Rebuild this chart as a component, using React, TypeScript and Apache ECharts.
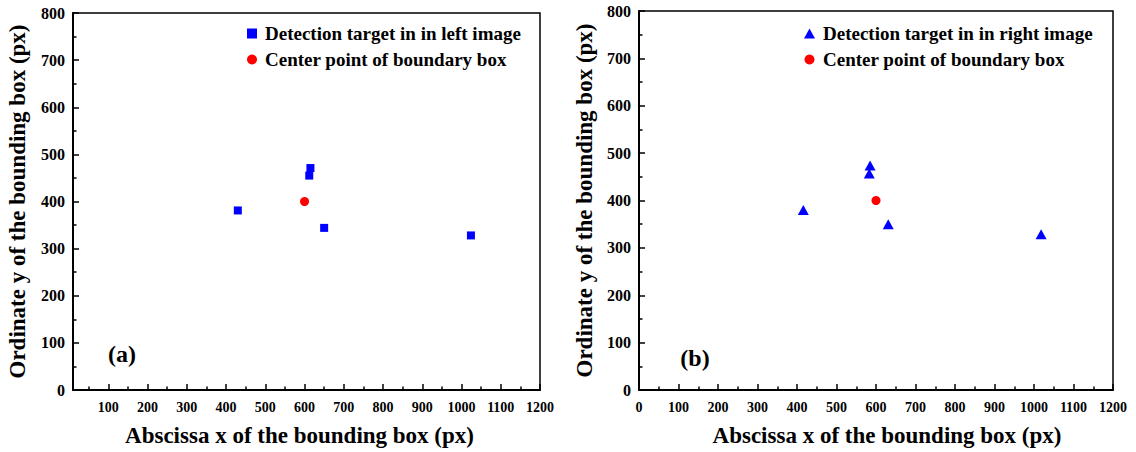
import React, { useEffect, useRef } from "react";
import * as echarts from "echarts";

// ---- data ----
const leftTargets: number[][] = [
  [430, 381],
  [615, 471],
  [612, 455],
  [650, 344],
  [1024, 328],
];
const rightTargets: number[][] = [
  [416, 380],
  [585, 474],
  [583, 457],
  [631, 350],
  [1018, 329],
];
const centerPoint: number[][] = [[600, 400]];

const xTicksLeft = [100, 200, 300, 400, 500, 600, 700, 800, 900, 1000, 1100, 1200];
const xTicksRight = [0, 100, 200, 300, 400, 500, 600, 700, 800, 900, 1000, 1100, 1200];
const xMinorTicks = [50, 150, 250, 350, 450, 550, 650, 750, 850, 950, 1050, 1150];

const legendLeft = ["Detection target in in left image", "Center point of boundary box"];
const legendRight = ["Detection target in in right image", "Center point of boundary box"];
const xTitle = "Abscissa x of the bounding box (px)";
const yTitle = "Ordinate y of the bounding box (px)";
const panelLabels = ["(a)", "(b)"];

const FONT = "'Liberation Serif', 'Times New Roman', serif";

export default function App() {
  const ref = useRef<HTMLDivElement>(null);

  useEffect(() => {
    if (!ref.current) return;
    const chart = echarts.init(ref.current, null, { renderer: "svg" });
    const plain = (v: number) => String(v);

    const mainX = (gridIndex: number, min: number, ticks: number[], shift: number) => ({
      type: "value",
      gridIndex,
      min,
      max: 1200,
      position: "bottom",
      name: xTitle,
      nameLocation: "middle",
      nameGap: 34,
      nameTextStyle: {
        fontFamily: FONT,
        fontWeight: "bold",
        fontSize: 23,
        color: "#000",
        padding: shift >= 0 ? [0, 0, 0, shift * 2] : [0, -shift * 2, 0, 0],
      },
      axisLine: { show: true, onZero: false, lineStyle: { color: "#000", width: 2 } },
      axisTick: { show: true, inside: true, length: 6, customValues: ticks, lineStyle: { color: "#000", width: 1.5 } },
      axisLabel: {
        show: true,
        customValues: ticks,
        formatter: plain,
        margin: 10,
        fontFamily: FONT,
        fontWeight: "bold",
        fontSize: 14,
        color: "#000",
      },
      splitLine: { show: false },
    });

    const minorX = (gridIndex: number, min: number) => ({
      type: "value",
      gridIndex,
      min,
      max: 1200,
      position: "bottom",
      axisLine: { show: false },
      axisTick: { show: true, inside: true, length: 3.5, customValues: xMinorTicks, lineStyle: { color: "#000", width: 1.5 } },
      axisLabel: { show: false },
      splitLine: { show: false },
    });

    const yAx = (gridIndex: number, gap: number) => ({
      type: "value",
      gridIndex,
      min: 0,
      max: 800,
      interval: 100,
      name: yTitle,
      nameLocation: "middle",
      nameGap: gap,
      nameTextStyle: { fontFamily: FONT, fontWeight: "bold", fontSize: 23, color: "#000" },
      axisLine: { show: true, onZero: false, lineStyle: { color: "#000", width: 2 } },
      axisTick: { show: true, inside: true, length: 6, lineStyle: { color: "#000", width: 1.5 } },
      minorTick: { show: true, splitNumber: 2, length: 3.5, lineStyle: { color: "#000", width: 1.5 } },
      axisLabel: { margin: 8, formatter: plain, fontFamily: FONT, fontWeight: "bold", fontSize: 16, color: "#000" },
      splitLine: { show: false },
      minorSplitLine: { show: false },
    });

    const legendText = { fontFamily: FONT, fontWeight: "bold", fontSize: 19, color: "#000", padding: [0, 0, 0, 3] };

    chart.setOption({
      animation: false,
      backgroundColor: "#fff",
      grid: [
        { left: 73, top: 13, width: 467, height: 378, show: true, borderColor: "#000", borderWidth: 1.5, backgroundColor: "transparent" },
        { left: 639, top: 11, width: 474, height: 381, show: true, borderColor: "#000", borderWidth: 1.5, backgroundColor: "transparent" },
      ],
      xAxis: [mainX(0, 10, xTicksLeft, -7), minorX(0, 10), mainX(1, 0, xTicksRight, 11), minorX(1, 0)],
      yAxis: [yAx(0, 44), yAx(1, 43)],
      legend: [
        {
          left: 242,
          top: 19,
          orient: "vertical",
          itemWidth: 10,
          itemHeight: 10,
          itemGap: 7,
          data: legendLeft,
          textStyle: legendText,
        },
        {
          left: 799,
          top: 19,
          orient: "vertical",
          itemWidth: 11,
          itemHeight: 10,
          itemGap: 7,
          data: legendRight,
          textStyle: legendText,
        },
      ],
      series: [
        {
          name: legendLeft[0],
          type: "scatter",
          xAxisIndex: 0,
          yAxisIndex: 0,
          symbol: "rect",
          symbolSize: 8,
          itemStyle: { color: "#0000ff", opacity: 1 },
          data: leftTargets,
        },
        {
          name: legendLeft[1],
          type: "scatter",
          xAxisIndex: 0,
          yAxisIndex: 0,
          symbol: "circle",
          symbolSize: 9,
          itemStyle: { color: "#ff0000", opacity: 1 },
          data: centerPoint,
        },
        {
          name: legendRight[0],
          type: "scatter",
          xAxisIndex: 2,
          yAxisIndex: 1,
          symbol: "triangle",
          symbolSize: [11, 10],
          itemStyle: { color: "#0000ff", opacity: 1 },
          data: rightTargets,
        },
        {
          name: legendRight[1],
          type: "scatter",
          xAxisIndex: 2,
          yAxisIndex: 1,
          symbol: "circle",
          symbolSize: 9,
          itemStyle: { color: "#ff0000", opacity: 1 },
          data: centerPoint,
        },
      ],
      graphic: [
        {
          type: "text",
          x: 122,
          y: 354,
          style: { text: panelLabels[0], font: `bold 24px ${FONT}`, fill: "#000", align: "center", verticalAlign: "middle" },
        },
        {
          type: "text",
          x: 695,
          y: 358,
          style: { text: panelLabels[1], font: `bold 24px ${FONT}`, fill: "#000", align: "center", verticalAlign: "middle" },
        },
      ],
    });

    return () => chart.dispose();
  }, []);

  return (
    <div
      ref={ref}
      style={{ position: "absolute", left: 0, top: 0, width: 1136, height: 452, background: "#fff" }}
    />
  );
}
